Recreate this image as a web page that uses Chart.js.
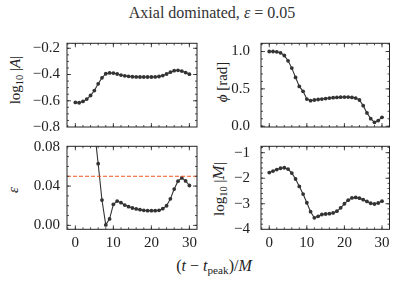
<!DOCTYPE html>
<html>
<head>
<meta charset="utf-8">
<script src="https://cdn.jsdelivr.net/npm/chart.js@4.4.1/dist/chart.umd.min.js"></script>
<style>
  body { margin: 0; width: 396px; height: 281px; background: #fff; position: relative; overflow: hidden;
         font-family: "Liberation Serif", serif; color: #222; }
  canvas { position: absolute; left: 0; top: 0; }
  .txt { position: absolute; white-space: nowrap; font-size: 15px; line-height: 15px; transform: translate(-50%, -50%); }
  .big { font-size: 16px; line-height: 16px; }
  .ylab { transform: translate(-50%, -50%) rotate(-90deg); }
  sub { font-size: 70%; line-height: 0; vertical-align: -0.3em; }
  .cal { font-family: "DejaVu Serif", serif; font-style: italic; font-size: 14px; }
</style>
</head>
<body>
<div class="txt big" style="left:212px; top:12.5px; color:#333">Axial dominated, <i>ε</i> = 0.05</div>
<div class="txt ylab" style="left:15px; top:80px">log<sub>10</sub> |<i>A</i>|</div>
<div class="txt ylab" style="left:222px; top:82px"><i>ϕ</i> [rad]</div>
<div class="txt ylab" style="left:13px; top:190px"><i>ε</i></div>
<div class="txt ylab" style="left:219px; top:189px">log<sub>10</sub> |<span class="cal">M</span>|</div>
<div class="txt big" style="left:214px; top:266px">(<i>t</i> − <i>t</i><sub>peak</sub>)/<i>M</i></div>

<canvas id="cA" width="396" height="281"></canvas>
<canvas id="cPhi" width="396" height="281"></canvas>
<canvas id="cEps" width="396" height="281"></canvas>
<canvas id="cM" width="396" height="281"></canvas>

<script>
// --- DATA ---
const tPeak = [0, 1, 2, 3, 4, 5, 6, 7, 8, 9, 10, 11, 12, 13, 14, 15, 16, 17, 18, 19, 20,
               21, 22, 23, 24, 25, 26, 27, 28, 29, 30];
const logA = [-0.613, -0.615, -0.605, -0.587, -0.560, -0.522, -0.471, -0.425, -0.394, -0.388, -0.389,
              -0.396, -0.404, -0.410, -0.414, -0.417, -0.418, -0.419, -0.419, -0.419, -0.419,
              -0.418, -0.415, -0.408, -0.396, -0.382, -0.371, -0.368, -0.374, -0.385, -0.397];
const phi = [1.000, 1.000, 0.996, 0.982, 0.947, 0.876, 0.778, 0.653, 0.533, 0.467, 0.364,
             0.342, 0.351, 0.358, 0.364, 0.371, 0.377, 0.382, 0.386, 0.389, 0.391,
             0.390, 0.386, 0.377, 0.351, 0.276, 0.178, 0.102, 0.053, 0.076, 0.120];
const eps = [null, null, null, null, null, 0.098, 0.0628, 0.0258, 0.0005, 0.0066, 0.0214,
             0.0247, 0.0231, 0.0207, 0.0190, 0.0177, 0.0167, 0.0160, 0.0153, 0.0150, 0.0150,
             0.0150, 0.0153, 0.0170, 0.0200, 0.0270, 0.0370, 0.0450, 0.0483, 0.0452, 0.0406];
const logM = [-1.78, -1.72, -1.66, -1.61, -1.59, -1.64, -1.80, -2.03, -2.32, -2.62, -2.96,
              -3.31, -3.55, -3.49, -3.42, -3.40, -3.39, -3.36, -3.29, -3.16, -3.00,
              -2.86, -2.77, -2.75, -2.78, -2.84, -2.91, -2.98, -3.01, -2.97, -2.90];
const epsTarget = 0.05;

const xTicks = [0, 10, 20, 30];
const xRange = [-2.2, 32];
const ticksA = [-0.8, -0.6, -0.4, -0.2];
const ticksPhi = [0, 0.5, 1.0];
const ticksEps = [0, 0.04, 0.08];
const ticksM = [-4, -3, -2, -1];

const FONT = { family: "'Liberation Serif', serif", size: 15 };
const INK = '#333';

const fmt = (v, d) => (v < -1e-12 ? '\u2212' : '') + Math.abs(v).toFixed(d);

// --- frame + inward ticks on all four sides (science style) ---
const frameTicks = {
  id: 'frameTicks',
  afterDraw(chart, args, o) {
    const { ctx, chartArea: a, scales: { x, y } } = chart;
    const minors = (min, max, step) => {
      const out = [];
      for (let k = Math.ceil(min / step - 1e-9); k * step <= max + 1e-9; k++) out.push(k * step);
      return out;
    };
    const tx = (v, len) => {
      const p = x.getPixelForValue(v);
      if (p < a.left + 0.5 || p > a.right - 0.5) return;
      ctx.moveTo(p, a.bottom); ctx.lineTo(p, a.bottom - len);
      ctx.moveTo(p, a.top); ctx.lineTo(p, a.top + len);
    };
    const ty = (v, len) => {
      const p = y.getPixelForValue(v);
      if (p < a.top + 0.5 || p > a.bottom - 0.5) return;
      ctx.moveTo(a.left, p); ctx.lineTo(a.left + len, p);
      ctx.moveTo(a.right, p); ctx.lineTo(a.right - len, p);
    };
    ctx.save();
    ctx.strokeStyle = '#222';
    ctx.lineWidth = 0.8;
    ctx.beginPath();
    minors(x.min, x.max, o.xMinor).forEach(v => tx(v, 2));
    minors(y.min, y.max, o.yMinor).forEach(v => ty(v, 2));
    o.xTicks.forEach(v => tx(v, 4));
    o.yTicks.forEach(v => ty(v, 4));
    ctx.stroke();
    ctx.lineWidth = 1;
    ctx.strokeRect(a.left, a.top, a.right - a.left, a.bottom - a.top);
    ctx.restore();
  }
};

const X_H = 30;   // fixed height of the x-axis box (labels live inside it)

function makePanel(id, pad, series, yRange, yTicks, yMinor, yDec, showX, labelPad, extra) {
  const datasets = [{
    data: tPeak.map((t, i) => ({ x: t, y: series[i] })),
    borderColor: INK,
    borderWidth: 1.1,
    pointRadius: 1.9,
    pointBackgroundColor: INK,
    pointBorderWidth: 0,
    tension: 0,
    order: 2
  }];
  if (extra) datasets.push(extra);

  return new Chart(document.getElementById(id), {
    type: 'line',
    data: { datasets },
    options: {
      responsive: false,
      animation: false,
      devicePixelRatio: 1,
      events: [],
      layout: { padding: { ...pad, bottom: pad.bottom - X_H } },
      plugins: {
        legend: { display: false },
        tooltip: { enabled: false },
        frameTicks: { xMinor: 2, yMinor, xTicks, yTicks }
      },
      scales: {
        x: {
          type: 'linear',
          min: xRange[0], max: xRange[1],
          grid: { display: false, drawTicks: false },
          border: { display: false },
          afterBuildTicks: s => { s.ticks = xTicks.map(v => ({ value: v })); },
          afterFit: s => { s.height = X_H; },
          ticks: { display: showX, autoSkip: false, maxRotation: 0, padding: 5, color: '#222', font: FONT,
                   callback: v => String(v) }
        },
        y: {
          type: 'linear',
          min: yRange[0], max: yRange[1],
          grid: { display: false, drawTicks: false },
          border: { display: false },
          afterBuildTicks: s => { s.ticks = yTicks.map(v => ({ value: v })); },
          afterFit: s => { s.width = 40; },
          ticks: { autoSkip: false, padding: labelPad, color: '#222', font: FONT,
                   callback: v => fmt(v, yDec) }
        }
      }
    },
    plugins: [frameTicks]
  });
}

// chart areas: left column x 67..197, right column x 261..389.5
// top row y 43.3..127, bottom row y 146.3..229.3
const padTL = { left: 27, right: 199, top: 43.3, bottom: 154 };
const padTR = { left: 221, right: 6.5, top: 43.3, bottom: 154 };
const padBL = { left: 27, right: 199, top: 146.3, bottom: 51.7 };
const padBR = { left: 221, right: 6.5, top: 146.3, bottom: 51.7 };

makePanel('cA', padTL, logA, [-0.8, -0.162], ticksA, 0.05, 1, false, 7);
makePanel('cPhi', padTR, phi, [-0.01, 1.11], ticksPhi, 0.1, 1, false, 11);
makePanel('cEps', padBL, eps, [-0.004, 0.0805], ticksEps, 0.01, 2, true, 7, {
  data: [{ x: xRange[0], y: epsTarget }, { x: xRange[1], y: epsTarget }],
  borderColor: '#f4511e',
  borderWidth: 1,
  borderDash: [4, 2],
  pointRadius: 0,
  order: 1
});
makePanel('cM', padBR, logM, [-4, -0.75], ticksM, 0.2, 0, true, 11);
</script>
</body>
</html>
